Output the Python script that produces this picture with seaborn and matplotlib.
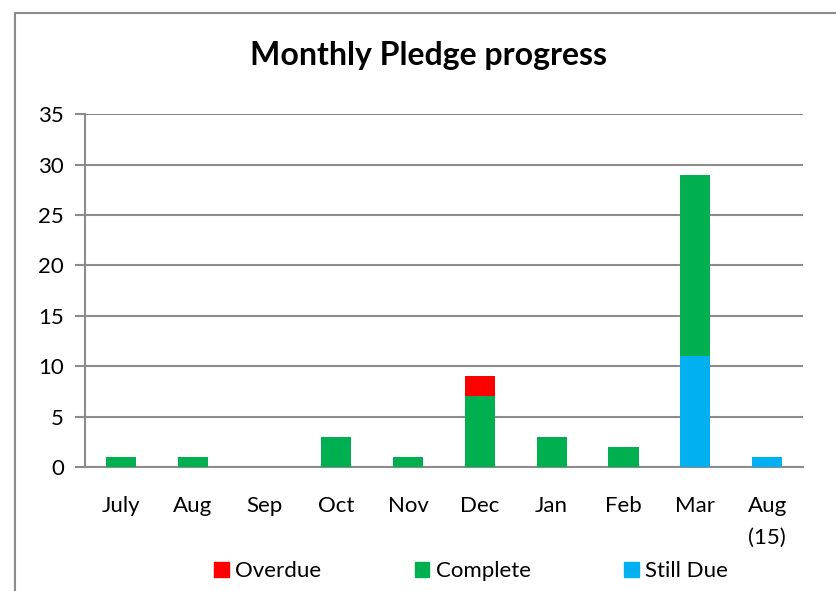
import numpy as np
import pandas as pd
import matplotlib.pyplot as plt
from matplotlib.patches import Rectangle
import seaborn as sns

# data
months = ["July", "Aug", "Sep", "Oct", "Nov", "Dec", "Jan", "Feb", "Mar", "Aug\n(15)"]
still_due = [0, 0, 0, 0, 0, 0, 0, 0, 11, 1]
complete = [1, 1, 0, 3, 1, 7, 3, 2, 18, 0]
overdue = [0, 0, 0, 0, 0, 2, 0, 0, 0, 0]

colors = {"Overdue": "#FF0000", "Complete": "#00B050", "Still Due": "#00B0F0"}

sns.set_style("white")
plt.rcParams['font.family'] = ['Lato', 'DejaVu Sans']
plt.rcParams['text.color'] = 'black'
plt.rcParams['xtick.labelcolor'] = 'black'
plt.rcParams['ytick.labelcolor'] = 'black'

fig = plt.figure(figsize=(8.37, 5.91), dpi=100)
ax = fig.add_axes([85 / 837, 0.2098, 718 / 837, 0.597])

# outer chart border
fig.patches.append(Rectangle((15 / 837, -0.1), 1.2, (591 - 13) / 591 + 0.1,
                             transform=fig.transFigure, fill=False,
                             edgecolor="#8c8c8c", linewidth=1.5, zorder=0))

df = pd.DataFrame({"month": months, "Still Due": still_due,
                   "Complete": complete, "Overdue": overdue})

bottom = np.zeros(len(months))
for name in ["Still Due", "Complete", "Overdue"]:
    sns.barplot(data=df, x="month", y=name, color=colors[name], width=0.42,
                bottom=bottom, ax=ax, saturation=1, zorder=3, linewidth=0)
    bottom = bottom + df[name].values

ax.set_ylim(0, 35)
ax.set_yticks(range(0, 36, 5))
ax.set_xlim(-0.5, len(months) - 0.5)
ax.set_xlabel("")
ax.set_ylabel("")
ax.yaxis.grid(True, color="#8c8c8c", linewidth=1.5, zorder=0)
ax.set_axisbelow(True)
for s in ["top", "right"]:
    ax.spines[s].set_visible(False)
for s in ["left", "bottom"]:
    ax.spines[s].set_color("#8c8c8c")
    ax.spines[s].set_linewidth(1.5)

# ticks between categories on x
ax.set_xticks(np.arange(len(months)))
ax.set_xticklabels(months, linespacing=1.7)
ax.set_xticks(np.arange(-0.5, len(months)), minor=True)
ax.tick_params(axis="x", which="major", length=0, labelsize=16, pad=21, labelcolor="black")
ax.tick_params(axis="x", which="minor", length=7, width=1.5, color="#8c8c8c", direction="out")
ax.tick_params(axis="y", length=7, width=1.5, color="#8c8c8c", labelsize=16, left=True, pad=8,
               labelcolor="black")

fig.suptitle("Monthly Pledge progress", x=0.512, y=0.93, fontsize=23, fontweight="bold",
             color="black")

handles = [Rectangle((0, 0), 1, 1, color=colors[n]) for n in ["Overdue", "Complete", "Still Due"]]
fig.legend(handles, ["Overdue", "Complete", "Still Due"], loc="center", ncol=3,
           bbox_to_anchor=(0.563, 0.034), frameon=False, fontsize=16, labelcolor="black",
           handlelength=0.65, handleheight=0.65, handletextpad=0.3, columnspacing=4.2)

fig.savefig("out.png", dpi=100)
